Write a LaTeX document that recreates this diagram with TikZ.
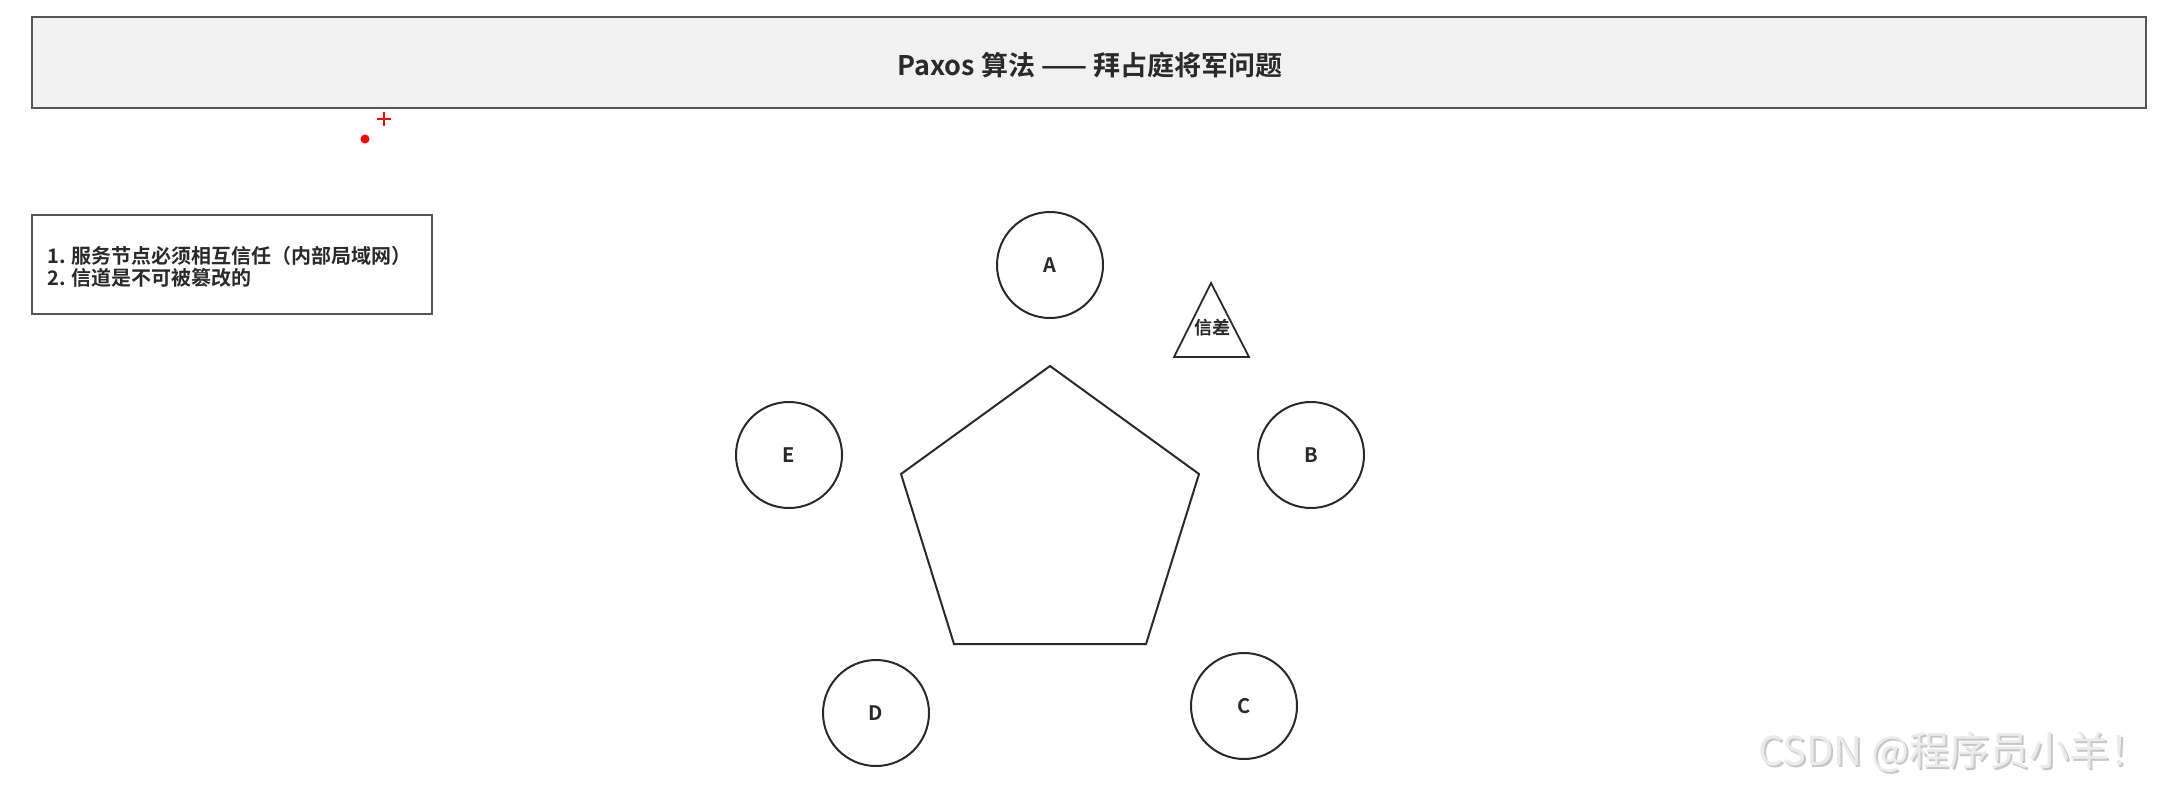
\documentclass[tikz,border=0pt]{standalone}
\usepackage{fontspec}
\setmainfont{Noto Sans CJK SC}
\newfontfamily\cjkb{Noto Sans CJK SC Bold}
\usetikzlibrary{shapes.geometric}
\definecolor{titlefill}{HTML}{F1F1F1}
\definecolor{edge}{HTML}{555555}
\definecolor{ink}{HTML}{2A2A2A}
\tikzset{
  banner/.style={draw=edge, line width=1.3pt, fill=titlefill},
  notebox/.style={draw=edge, line width=1.3pt, fill=white},
  general/.style={circle, draw=ink, line width=1pt, minimum size=53pt, inner sep=0pt, font=\cjkb\fontsize{10}{11}\selectfont, text=ink},
  signal/.style={font=\cjkb\fontsize{9}{10}\selectfont, text=ink},
}
\begin{document}
\begin{tikzpicture}[x=0.5pt, y=-0.5pt]
\useasboundingbox (0,0) rectangle (2167,793);
% title banner
\draw[banner] (32,17) rectangle (2146,108);
\node[font=\cjkb\fontsize{13.5}{15}\selectfont, text=ink] (title) at (1090,65) {Paxos 算法 —— 拜占庭将军问题};
% red markers
\draw[red, line width=1.2pt] (377,119) -- (391,119) (384,112) -- (384,126);
\fill[red] (365,139) circle (4.5);
% note box
\draw[notebox] (32,215) rectangle (432,314);
\node[anchor=west, align=left, font=\cjkb\fontsize{10}{11}\selectfont, text=ink, inner sep=0pt] (note) at (47,267) {1. 服务节点必须相互信任（内部局域网）\\2. 信道是不可被篡改的};
% pentagon
\coordinate (p1) at (1050,366);
\coordinate (p2) at (1199,474);
\coordinate (p3) at (1146,644);
\coordinate (p4) at (954,644);
\coordinate (p5) at (901,474);
\draw[ink, line width=1pt, line join=miter] (p1) -- (p2) -- (p3) -- (p4) -- (p5) -- cycle;
% generals
\node[general] (A) at (1050,265) {A};
\node[general] (B) at (1311,455) {B};
\node[general] (C) at (1244,706) {C};
\node[general] (D) at (876,713) {D};
\node[general] (E) at (789,455) {E};
% messenger triangle
\coordinate (t1) at (1211,283);
\coordinate (t2) at (1249,357);
\coordinate (t3) at (1174,357);
\draw[ink, line width=0.9pt] (t1) -- (t2) -- (t3) -- cycle;
\node[signal] (msg) at (1212,328) {信差};
% watermark
\node[anchor=west, font=\fontsize{20}{22}\selectfont, text=black!22] (wm2) at (1753,754) {CSDN @程序员小羊！};
\node[anchor=west, font=\fontsize{20}{22}\selectfont, text=black!8] (wm) at (1751,752) {CSDN @程序员小羊！};
\end{tikzpicture}
\end{document}
